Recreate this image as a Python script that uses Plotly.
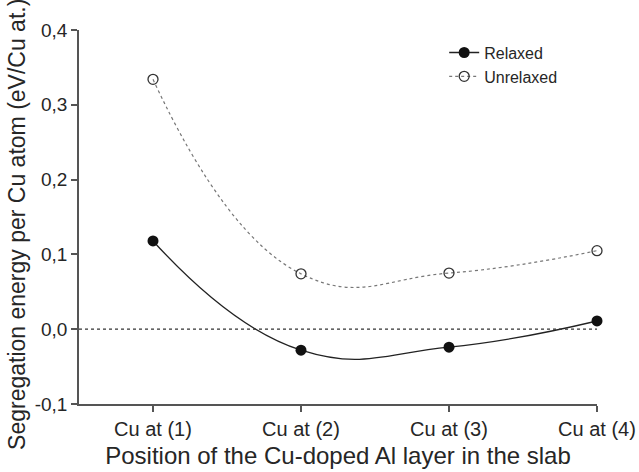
import plotly.graph_objects as go

categories = ["Cu at (1)", "Cu at (2)", "Cu at (3)", "Cu at (4)"]
relaxed = [0.118, -0.028, -0.024, 0.011]
unrelaxed = [0.334, 0.074, 0.075, 0.105]
ytick_vals = [-0.1, 0.0, 0.1, 0.2, 0.3, 0.4]
ytick_text = ["-0,1", "0,0", "0,1", "0,2", "0,3", "0,4"]
y_title = "Segregation energy per Cu atom (eV/Cu at.)"
x_title = "Position of the Cu-doped Al layer in the slab"

xpos = list(range(len(categories)))
FONT = "Liberation Sans, Arial, sans-serif"
AX = "#555555"
TXT = "#262626"

fig = go.Figure()
fig.add_trace(go.Scatter(
    x=xpos, y=relaxed, name="Relaxed", mode="lines+markers",
    line=dict(color="#222222", width=1.3, shape="spline", smoothing=1.3),
    marker=dict(symbol="circle", size=11, color="#111111"),
    cliponaxis=False,
))
fig.add_trace(go.Scatter(
    x=xpos, y=unrelaxed, name="Unrelaxed", mode="lines+markers",
    line=dict(color="#777777", width=1.2, dash="dot", shape="spline", smoothing=1.3),
    marker=dict(symbol="circle-open", size=10, color="#333333", line=dict(width=1.3)),
    cliponaxis=False,
))
fig.add_shape(type="line", xref="x", yref="y", x0=-0.5, x1=3.02, y0=0, y1=0,
              line=dict(color="#333333", width=1.3, dash="dot"))

fig.add_annotation(
    text=y_title, textangle=-90, xref="paper", yref="paper",
    x=-0.12, y=0.481, xanchor="center", yanchor="middle", showarrow=False,
    font=dict(size=23, color=TXT, family=FONT),
)

fig.update_layout(
    width=639, height=472,
    margin=dict(l=79, r=42, t=30, b=68),
    plot_bgcolor="white", paper_bgcolor="white",
    font=dict(family=FONT, color=TXT),
    showlegend=True,
    legend=dict(x=0.705, y=0.985, xanchor="left", yanchor="top",
                bgcolor="rgba(0,0,0,0)", font=dict(size=16, color=TXT),
                tracegroupgap=0, itemwidth=30),
)
fig.update_xaxes(
    range=[-0.5, 3], tickvals=xpos, ticktext=categories,
    showline=True, linecolor=AX, linewidth=1.5, mirror=False,
    ticks="outside", ticklen=6, tickcolor=AX, tickwidth=1.5,
    showgrid=False, zeroline=False,
    tickfont=dict(size=20, color=TXT),
    title=dict(text=x_title, font=dict(size=24, color=TXT), standoff=8),
    automargin=False,
)
fig.update_yaxes(
    range=[-0.1, 0.4], tickvals=ytick_vals, ticktext=ytick_text,
    showline=True, linecolor=AX, linewidth=1.5,
    ticks="outside", ticklen=6, tickcolor=AX, tickwidth=1.5,
    showgrid=False, zeroline=False,
    tickfont=dict(size=19, color=TXT),
    automargin=False,
)

fig.write_html("out.html")
